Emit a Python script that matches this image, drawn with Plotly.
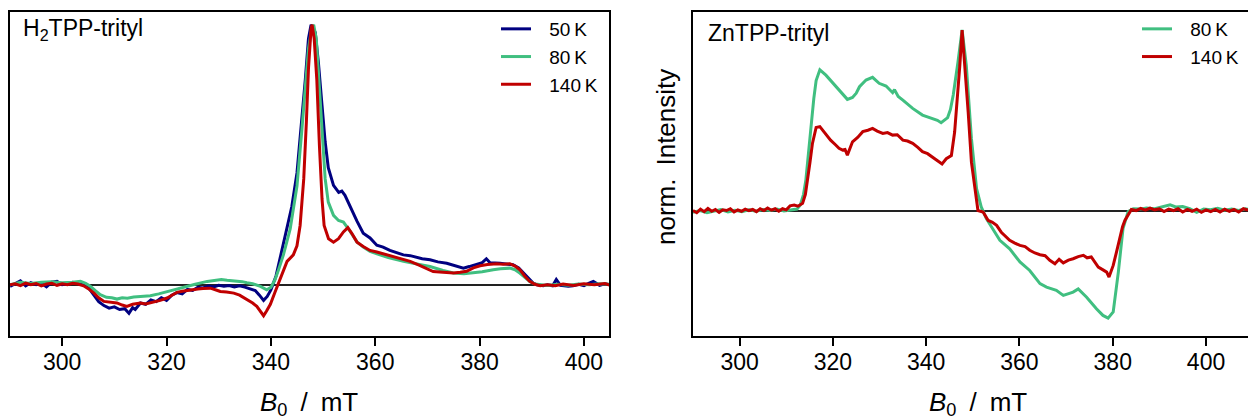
import plotly.graph_objects as go

# ---------------- data: left panel (H2TPP-trityl) ----------------
b_h2_50 = [290, 291, 292, 293, 294, 295, 296, 297, 298, 299, 300, 301, 302, 303, 304, 305, 306, 307, 308, 309,
           310, 311, 312, 312.8, 313.5, 314, 315, 316, 317, 318, 319, 320, 321, 322, 323, 324, 325, 326, 327, 328,
           329, 330, 331, 332, 333, 334, 335, 336, 337, 337.8, 338.6, 339.3, 340, 341, 342, 343, 344, 345, 345.9,
           346.6, 347.2, 347.7, 348.5, 349.1, 349.8, 350.4, 351, 352, 353, 353.6, 354.2, 355.2, 356.5, 357.7, 359,
           360.3, 361.5, 362.8, 364, 365.4, 366.7, 368, 369, 370.5, 372, 373.7, 375, 376.9, 378, 379.4, 380.5,
           381.3, 382, 383.9, 385, 386.4, 387.5, 388.4, 389.3, 390.3, 391, 392.2, 393, 394, 394.7, 395.5, 397,
           397.9, 399, 400, 401, 401.8, 403, 404, 405]
i_h2_50 = [-0.006, 0.005, 0.015, -0.004, 0.008, 0.0, 0.006, -0.008, 0.01, 0.013, 0.0, 0.004, 0.01, 0.006, 0.004,
           -0.01, -0.04, -0.065, -0.08, -0.09, -0.085, -0.095, -0.092, -0.11, -0.088, -0.095, -0.07, -0.075,
           -0.058, -0.065, -0.05, -0.06, -0.04, -0.03, -0.035, -0.018, -0.022, -0.01, -0.012, -0.005, -0.008,
           -0.002, -0.006, -0.003, -0.008, -0.004, -0.009, -0.015, -0.022, -0.04, -0.06, -0.045, -0.02, 0.035,
           0.12, 0.21, 0.30, 0.43, 0.626, 0.79, 0.946, 1.0, 0.97, 0.856, 0.69, 0.55, 0.45, 0.382, 0.355, 0.36,
           0.344, 0.3, 0.245, 0.198, 0.18, 0.152, 0.145, 0.132, 0.125, 0.115, 0.112, 0.105, 0.1, 0.096, 0.088,
           0.083, 0.075, 0.064, 0.07, 0.077, 0.085, 0.1, 0.085, 0.083, 0.08, 0.077, 0.065, 0.045, 0.025, 0.006,
           0.0, -0.004, 0.0, -0.004, 0.02, -0.002, -0.006, -0.004, 0.002, -0.003, 0.006, 0.013, -0.002, 0.004, 0.0]

b_h2_80 = [290, 292, 294, 296, 298, 300, 302, 303.5, 304.5, 305.4, 306.3, 307.3, 308.5, 309.5, 310.5, 311.5,
           312.5, 313.7, 315, 316.9, 318.5, 320.1, 322, 323.9, 325.5, 327.8, 329.5, 330.5, 331.6, 333, 334.5,
           335.4, 336.5, 338, 339.2, 340, 340.8, 341.5, 342.4, 343.7, 345, 345.9, 346.6, 347.2, 347.85, 348.2,
           348.7, 349.1, 349.8, 350.4, 351, 352, 352.96, 353.9, 355.2, 356.5, 357.7, 359, 360.9, 362.5, 365.4,
           368, 370.5, 373, 375, 377, 378.8, 380.5, 382.6, 384, 385.8, 386.8, 387.7, 388.6, 389.6, 390.6, 391.6,
           393, 395, 397, 399, 401, 403, 405]
i_h2_80 = [0.0, 0.01, 0.005, 0.01, 0.012, 0.008, 0.01, 0.013, 0.005, -0.006, -0.022, -0.038, -0.048, -0.05,
           -0.055, -0.05, -0.052, -0.047, -0.045, -0.042, -0.035, -0.026, -0.015, -0.006, 0.002, 0.013, 0.017,
           0.02, 0.017, 0.015, 0.012, 0.008, 0.004, -0.006, -0.019, -0.01, 0.02, 0.06, 0.115, 0.215, 0.38, 0.587,
           0.754, 0.908, 0.99, 1.0, 0.946, 0.818, 0.574, 0.408, 0.318, 0.267, 0.247, 0.241, 0.205, 0.165, 0.145,
           0.128, 0.115, 0.105, 0.09, 0.08, 0.07, 0.055, 0.045, 0.042, 0.045, 0.05, 0.058, 0.062, 0.064, 0.058,
           0.045, 0.03, 0.013, 0.003, 0.0, -0.003, 0.002, -0.002, 0.003, 0.0, 0.004, 0.002]

b_h2_140 = [290, 291, 292, 293, 294, 295, 296, 297, 298, 299, 300, 301, 302, 303, 304.1, 305, 306.1, 307, 308,
            309, 310.5, 311.5, 312.4, 313.5, 315, 316, 317.5, 318.8, 320.1, 321, 322, 323, 324.6, 326, 327,
            328.4, 329.5, 330.3, 331.5, 332.9, 334, 335.4, 336.5, 337.3, 338, 338.6, 339.2, 339.9, 340.8, 341.8,
            343.1, 344.3, 345, 345.6, 346.3, 346.8, 347.2, 347.7, 347.9, 348.3, 348.8, 349.3, 349.8, 350.2,
            351.05, 352, 352.96, 353.9, 354.75, 355.5, 356.5, 357.7, 359, 360.3, 362.2, 364, 366.7, 368.5, 370,
            371.1, 373, 375, 376.3, 377.5, 378.8, 380.1, 381.5, 383.3, 384.5, 385.8, 386.8, 387.7, 388.6, 389.6,
            390.6, 391.6, 393, 394.5, 396, 398, 400, 402, 404, 405]
i_h2_140 = [0.0, 0.004, -0.003, 0.006, 0.0, 0.005, -0.004, 0.003, 0.006, -0.002, 0.004, 0.0, 0.006, 0.003,
            -0.004, -0.015, -0.032, -0.05, -0.064, -0.066, -0.07, -0.078, -0.083, -0.075, -0.07, -0.074, -0.068,
            -0.06, -0.051, -0.04, -0.029, -0.025, -0.019, -0.016, -0.014, -0.013, -0.02, -0.026, -0.028, -0.032,
            -0.04, -0.055, -0.07, -0.083, -0.1, -0.119, -0.1, -0.075, -0.028, 0.025, 0.09, 0.115, 0.15, 0.228,
            0.408, 0.626, 0.83, 0.985, 1.0, 0.946, 0.79, 0.536, 0.33, 0.228, 0.177, 0.164, 0.177, 0.203, 0.22,
            0.198, 0.164, 0.147, 0.132, 0.126, 0.115, 0.105, 0.09, 0.075, 0.06, 0.051, 0.048, 0.045, 0.048, 0.052,
            0.065, 0.073, 0.078, 0.081, 0.079, 0.081, 0.072, 0.058, 0.035, 0.013, 0.002, -0.004, 0.0, -0.004,
            0.003, -0.003, 0.004, 0.0, 0.005, -0.002]

# ---------------- data: right panel (ZnTPP-trityl) ----------------
b_zn_80 = [290, 291.5, 293, 294.5, 296, 297.5, 299, 300.5, 302, 303.5, 305, 306.5, 308, 309.5, 311, 312.3, 313,
           313.7, 314.2, 314.8, 315.3, 315.9, 316.4, 317.2, 318.5, 319.5, 320.6, 321.8, 323.1, 324.2, 325, 325.7,
           327.1, 328.5, 329.9, 331.4, 332.8, 333.2, 334, 335, 337.1, 339.2, 341.4, 342.4, 343.2, 344, 344.6,
           345.2, 345.8, 346.8, 347.7, 348.6, 349.7, 350.8, 351.8, 352.9, 354.3, 355.8, 357.9, 360.1, 362.2,
           364.4, 365.8, 367.9, 369.4, 371.5, 372.6, 374.4, 376.5, 377.9, 379, 380.1, 381.2, 382.2, 383.3, 384.4,
           386, 387.2, 389, 390.5, 392.3, 393.5, 395, 396.5, 398, 399.5, 401, 402.5, 404, 405.5, 407, 408.5, 409.5]
i_zn_80 = [-0.01, 0.0, -0.012, -0.004, 0.006, -0.008, 0.002, -0.006, 0.004, -0.004, 0.006, 0.0, 0.008, -0.002,
           0.004, 0.008, 0.03, 0.09, 0.17, 0.33, 0.48, 0.62, 0.72, 0.78, 0.75, 0.72, 0.686, 0.655, 0.616, 0.627,
           0.65, 0.686, 0.723, 0.738, 0.705, 0.69, 0.653, 0.67, 0.632, 0.612, 0.566, 0.529, 0.51, 0.5, 0.487, 0.505,
           0.515, 0.56, 0.64, 0.82, 1.0, 0.804, 0.398, 0.121, 0.02, -0.045, -0.1, -0.165, -0.212, -0.285, -0.332,
           -0.405, -0.424, -0.442, -0.47, -0.452, -0.434, -0.48, -0.544, -0.581, -0.596, -0.562, -0.341, -0.1,
           -0.005, 0.01, 0.008, 0.014, 0.01, 0.02, 0.032, 0.02, 0.022, 0.01, -0.01, 0.008, 0.004, 0.012, 0.002,
           0.008, 0.0, 0.01, 0.004]

b_zn_140 = [290, 290.8, 291.6, 292.4, 293.2, 294, 294.8, 295.6, 296.4, 297.2, 298, 298.8, 299.6, 300.4, 301.2,
            302, 302.8, 303.6, 304.4, 305.2, 306, 306.8, 307.6, 308.4, 309.2, 310, 310.8, 311.7, 312.5, 313.5,
            314.1, 314.6, 315.1, 315.6, 316.4, 317.2, 317.8, 318.5, 319.5, 320.6, 321.3, 322.1, 322.6, 323.1,
            323.6, 324.2, 325.3, 326.4, 327.5, 328.5, 329.5, 330.7, 331.7, 332.8, 333.8, 335, 336, 337.1, 338.2,
            339.2, 340.3, 341.4, 342.4, 343.4, 344.3, 345.4, 346.1, 346.8, 347.2, 347.7, 348.3, 349, 349.7, 350.4,
            351.1, 352.2, 353.3, 354.2, 355.1, 356.1, 357, 357.9, 359, 360.1, 361.2, 362.2, 363.3, 364.4, 365.5,
            366.5, 367.6, 368.5, 369.4, 370.5, 371.5, 372.6, 373.7, 374.5, 375.4, 376.1, 376.9, 378, 378.7, 379.2,
            379.7, 380.1, 380.8, 381.5, 382.1, 382.6, 383.3, 384, 385, 386, 387, 388, 389, 390, 391, 392, 393, 394,
            395, 396, 397, 398, 399, 400, 401, 402, 403, 404, 405, 406, 407, 408, 409]
i_zn_140 = [0.0, -0.012, 0.008, -0.006, 0.012, -0.004, 0.006, -0.01, 0.004, 0.0, 0.01, -0.008, 0.004, -0.004,
            0.008, 0.0, 0.006, -0.006, 0.01, 0.0, 0.014, 0.002, 0.01, -0.004, 0.01, 0.004, 0.026, 0.03, 0.024, 0.04,
            0.09, 0.17, 0.27, 0.37, 0.46, 0.465, 0.445, 0.418, 0.39, 0.363, 0.345, 0.335, 0.338, 0.307, 0.345,
            0.381, 0.405, 0.437, 0.445, 0.455, 0.44, 0.427, 0.432, 0.418, 0.42, 0.39, 0.385, 0.372, 0.35, 0.326,
            0.315, 0.295, 0.275, 0.258, 0.287, 0.305, 0.435, 0.638, 0.8, 1.0, 0.804, 0.546, 0.268, 0.121, 0.0,
            -0.008, -0.055, -0.065, -0.082, -0.12, -0.14, -0.165, -0.18, -0.193, -0.2, -0.22, -0.235, -0.245,
            -0.25, -0.276, -0.295, -0.27, -0.29, -0.275, -0.267, -0.255, -0.248, -0.262, -0.257, -0.285, -0.313,
            -0.33, -0.341, -0.368, -0.33, -0.304, -0.23, -0.156, -0.09, -0.055, -0.02, 0.006, 0.0, 0.012, 0.002,
            0.014, 0.004, 0.01, -0.006, 0.008, 0.0, 0.01, -0.008, 0.006, -0.004, 0.008, -0.01, 0.004, -0.006,
            0.006, -0.008, 0.008, -0.004, 0.006, -0.008, 0.01, 0.002]

tick_vals = [300, 320, 340, 360, 380, 400]
tick_text = ["300", "320", "340", "360", "380", "400"]
legend_left = ["50\u2009K", "80\u2009K", "140\u2009K"]
legend_right = ["80\u2009K", "140\u2009K"]
panel_titles = ["H<sub>2</sub>TPP-trityl", "ZnTPP-trityl"]

NAVY = "#000080"
GREEN = "#40BF80"
RED = "#C00000"
FONT = "Liberation Sans, Arial, sans-serif"
W, H = 1248, 420
LEG_PAD = "\u2002\u2009"  # extra gap between legend sample and label

fig = go.Figure()
for b, i, name, col in [(b_h2_50, i_h2_50, legend_left[0], NAVY),
                        (b_h2_80, i_h2_80, legend_left[1], GREEN),
                        (b_h2_140, i_h2_140, legend_left[2], RED)]:
    fig.add_trace(go.Scatter(x=b, y=i, mode="lines", name=LEG_PAD + name, line=dict(color=col, width=3),
                             xaxis="x", yaxis="y", legend="legend"))
for b, i, name, col in [(b_zn_80, i_zn_80, legend_right[0], GREEN),
                        (b_zn_140, i_zn_140, legend_right[1], RED)]:
    fig.add_trace(go.Scatter(x=b, y=i, mode="lines", name=LEG_PAD + name, line=dict(color=col, width=3),
                             xaxis="x2", yaxis="y2", legend="legend2"))

ydom = [1 - 336 / H, 1 - 12 / H]
axis_common = dict(showline=True, linecolor="black", linewidth=2, ticks="outside", ticklen=8, tickwidth=1.5,
                   tickcolor="black", tickvals=tick_vals, ticktext=tick_text, showgrid=False, zeroline=False,
                   ticklabelstandoff=-4, tickfont=dict(family=FONT, size=23, color="black"))

fig.update_layout(
    width=W, height=H, margin=dict(l=0, r=0, t=0, b=0),
    paper_bgcolor="white", plot_bgcolor="white",
    font=dict(family=FONT, color="black"),
    xaxis=dict(domain=[10 / W, 609 / W], range=[290, 404.8], mirror=True, anchor="y", **axis_common),
    yaxis=dict(domain=ydom, range=[-0.197, 1.049], showline=True, linecolor="black", linewidth=2, mirror=True,
               showticklabels=False, ticks="", showgrid=False, zeroline=True, zerolinecolor="#222",
               zerolinewidth=1.5, anchor="x"),
    xaxis2=dict(domain=[693 / W, 1.0], range=[290, 409.0], mirror=True, anchor="y2", **axis_common),
    yaxis2=dict(domain=ydom, range=[-0.695, 1.10], showline=True, linecolor="black", linewidth=2, mirror=False,
                showticklabels=False, ticks="", showgrid=False, zeroline=True, zerolinecolor="#222",
                zerolinewidth=1.5, anchor="x2"),
    legend=dict(x=496 / W, y=1 - 10 / H, xanchor="left", yanchor="top", bgcolor="rgba(0,0,0,0)",
                font=dict(family=FONT, size=19, color="black"), tracegroupgap=0, itemwidth=30),
    legend2=dict(x=1137 / W, y=1 - 10 / H, xanchor="left", yanchor="top", bgcolor="rgba(0,0,0,0)",
                 font=dict(family=FONT, size=19, color="black"), tracegroupgap=0, itemwidth=30),
    showlegend=True,
)

annots = [
    dict(text=panel_titles[0], x=21 / W, y=1 - 30 / H, xanchor="left", yanchor="middle",
         font=dict(family=FONT, size=23)),
    dict(text=panel_titles[1], x=706 / W, y=1 - 33 / H, xanchor="left", yanchor="middle",
         font=dict(family=FONT, size=23)),
    dict(text="<i>B</i><sub>0</sub>\u2002/\u2002mT", x=309 / W, y=1 - 403 / H, xanchor="center",
         yanchor="middle", font=dict(family=FONT, size=26)),
    dict(text="<i>B</i><sub>0</sub>\u2002/\u2002mT", x=978 / W, y=1 - 403 / H, xanchor="center",
         yanchor="middle", font=dict(family=FONT, size=26)),
    dict(text="norm.\u2002Intensity", x=666 / W, y=1 - 157 / H, xanchor="center", yanchor="middle",
         textangle=-90, font=dict(family=FONT, size=26)),
]
for a in annots:
    a.update(xref="paper", yref="paper", showarrow=False)
fig.update_layout(annotations=annots)

fig.write_html("out.html", config={"displayModeBar": False},
               post_script="document.body.style.margin='0';document.body.style.overflow='hidden';")
